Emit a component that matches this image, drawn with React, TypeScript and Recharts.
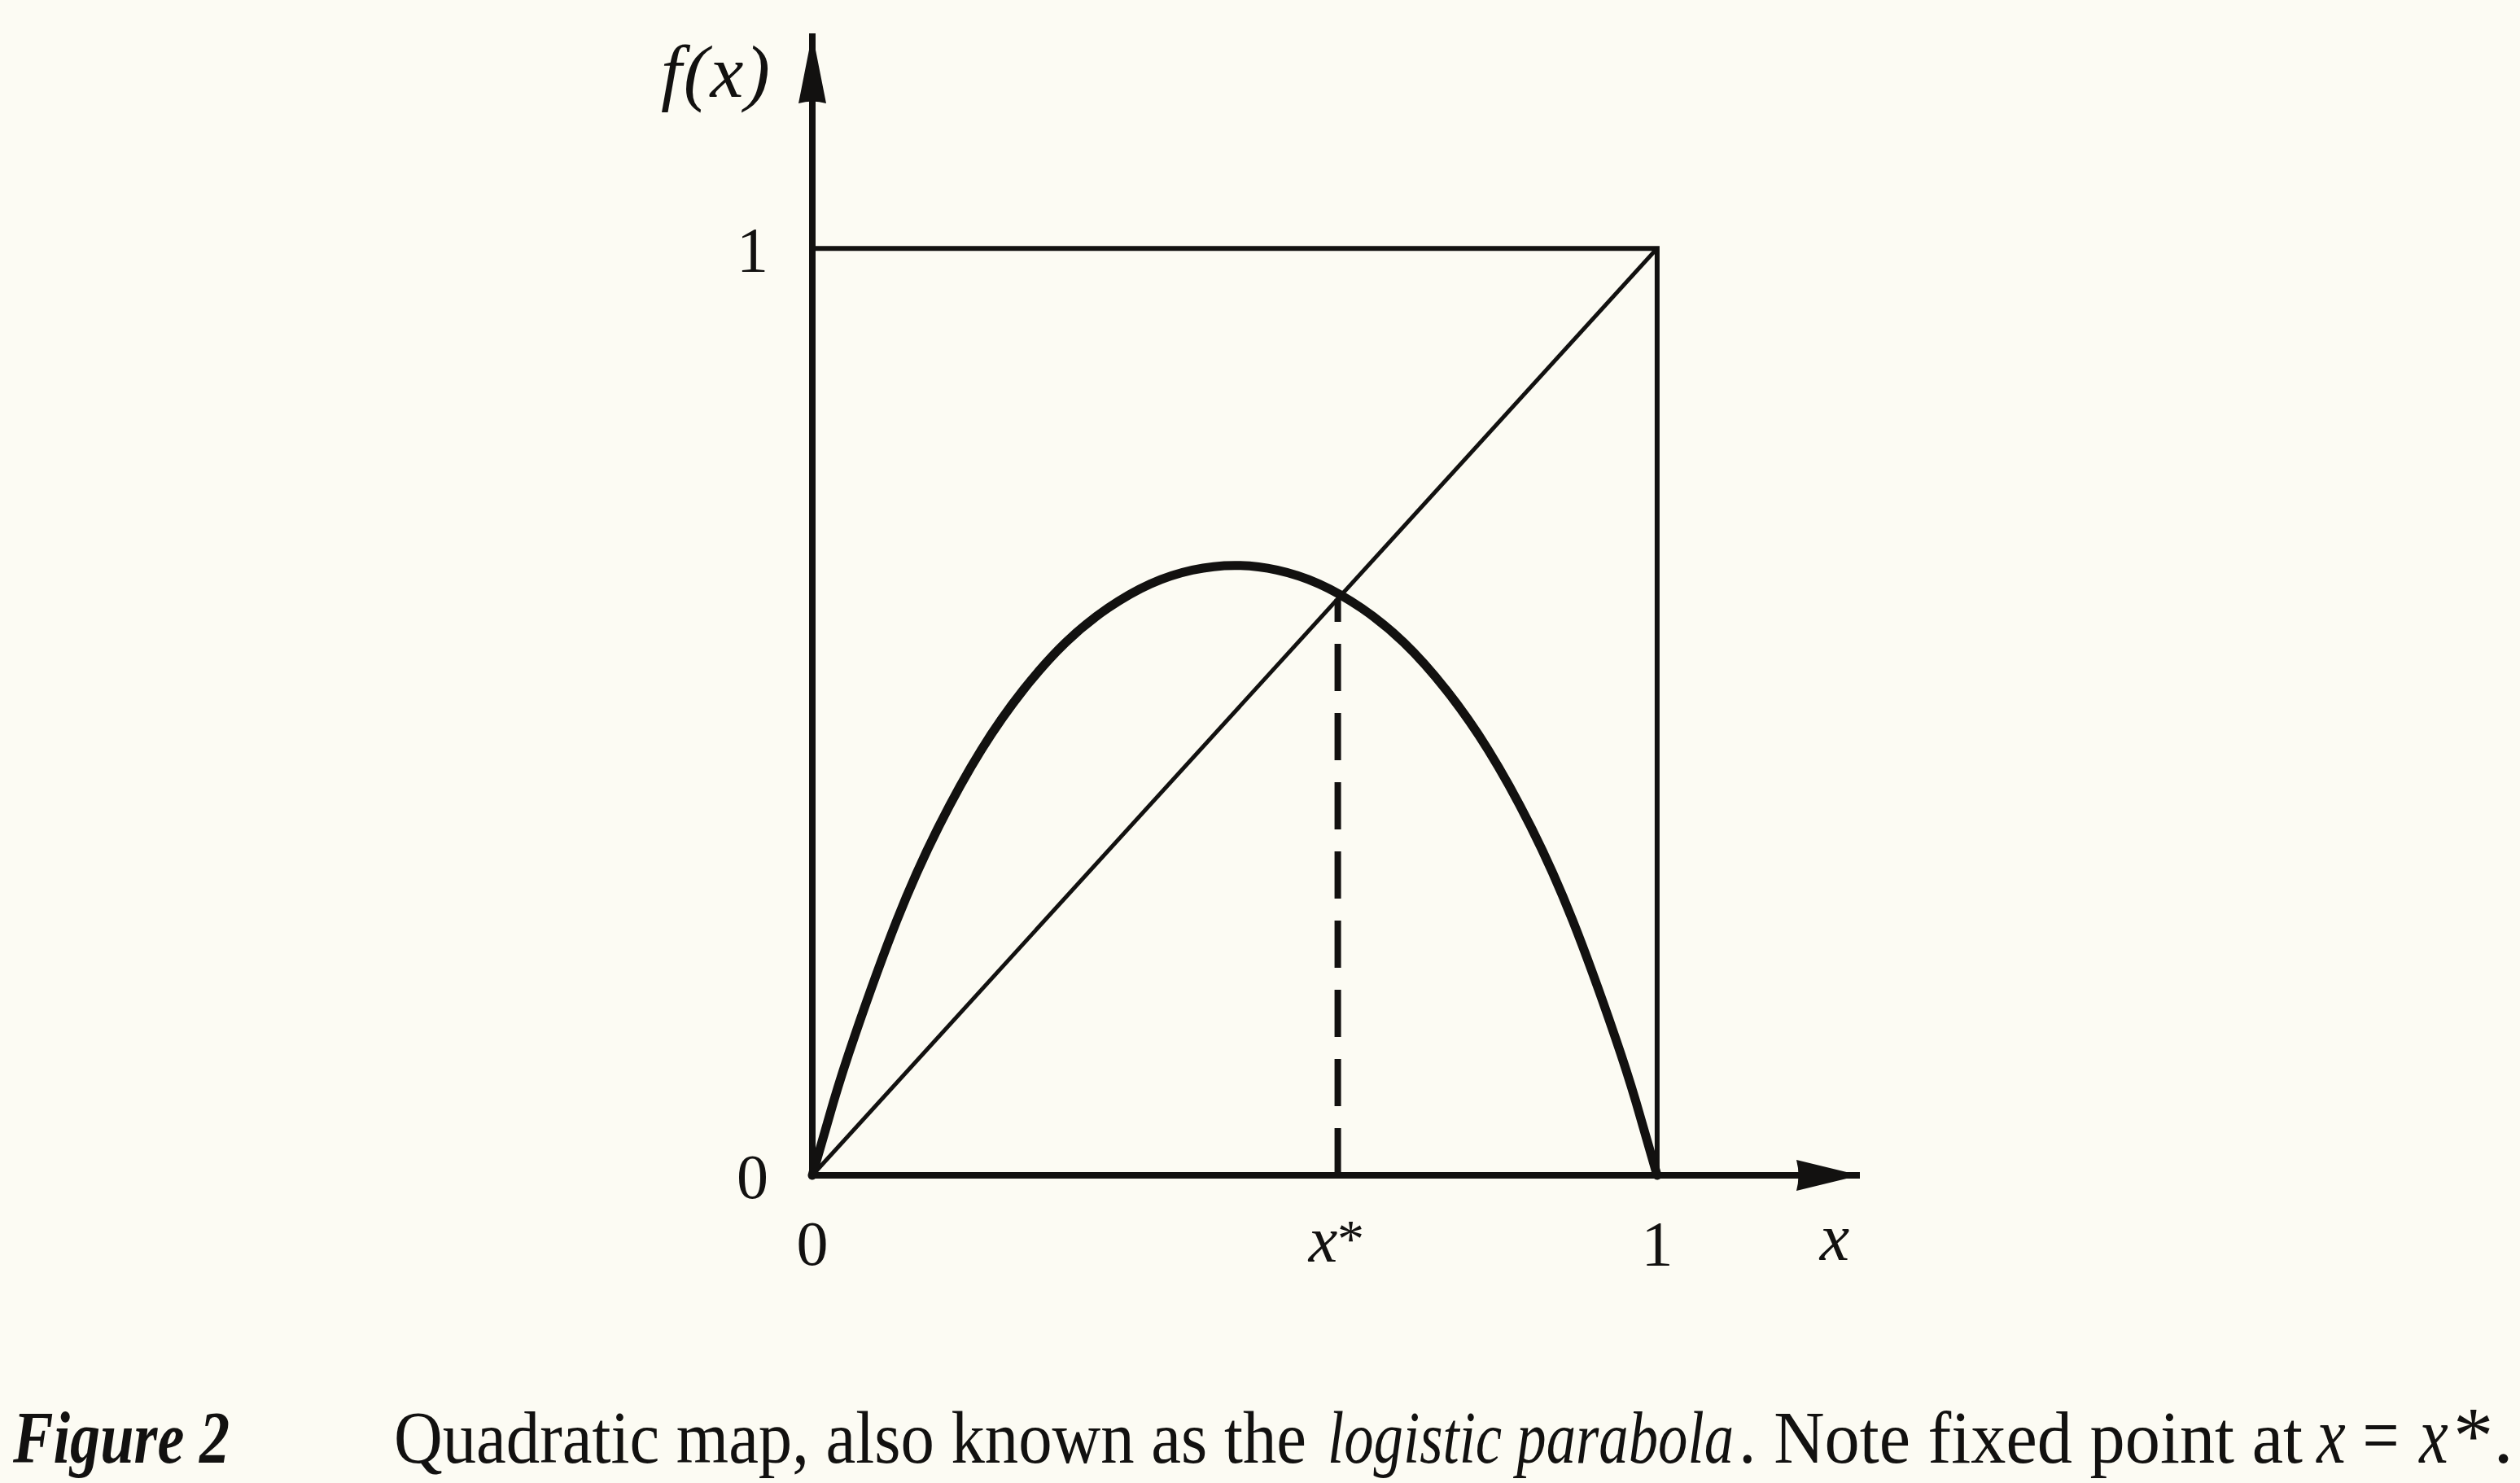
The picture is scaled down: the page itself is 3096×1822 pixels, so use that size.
import React from 'react';
import { ComposedChart, Line, Scatter, XAxis, YAxis } from 'recharts';

// values
const mapX = [0, 0.025, 0.05, 0.1, 0.15, 0.2, 0.25, 0.3, 0.35, 0.4, 0.45, 0.5, 0.55, 0.6, 0.65, 0.7, 0.75, 0.8, 0.85, 0.9, 0.95, 0.975, 1];
const mapY = [0, 0.079, 0.150, 0.275, 0.377, 0.459, 0.524, 0.575, 0.612, 0.638, 0.653, 0.658, 0.653, 0.638, 0.612, 0.575, 0.524, 0.459, 0.377, 0.275, 0.150, 0.079, 0];

const diagX = [0, 1];
const diagY = [0, 1];

const boxX = [0, 1, 1];
const boxY = [1, 1, 0];

const fixedPoint = 0.622;

const xTicks = [0, fixedPoint, 1, 1.21];
const xTickLabels = ['0', 'x*', '1', 'x'];
const yTicks = [0, 1, 1.19];
const yTickLabels = ['0', '1', 'f(x)'];

const X_MAX = 1.24;
const Y_MAX = 1.232;

const zip = (xs: number[], ys: number[]) => xs.map((x, i) => ({ x, y: ys[i] }));

const curveData = zip(mapX, mapY);
const diagData = zip(diagX, diagY);
const boxData = zip(boxX, boxY);
const dashData = [{ x: fixedPoint, y: 0 }, { x: fixedPoint, y: fixedPoint }];

const INK = '#121110';
const PAPER = '#fcfbf3';
const FONT = '"Liberation Serif", "DejaVu Serif", serif';

const findIdx = (arr: number[], v: number) => arr.findIndex((t) => Math.abs(t - v) < 1e-6);

const XTick = (props: any) => {
  const { x, y, payload } = props;
  const label = xTickLabels[findIdx(xTicks, payload.value)];
  const base = y + 110;
  if (label === 'x*') {
    return (
      <g>
        <text x={x - 18} y={base - 4} textAnchor="middle" fontFamily={FONT} fontSize={80} fill={INK} fontStyle="italic">x</text>
        <text x={x + 16} y={base - 10} textAnchor="middle" fontFamily={FONT} fontSize={66} fill={INK}>*</text>
      </g>
    );
  }
  return (
    <text x={x} y={label === 'x' ? base - 6 : base} textAnchor="middle" fontFamily={FONT} fontSize={label === 'x' ? 82 : 78} fill={INK}
      fontStyle={label === 'x' ? 'italic' : 'normal'}>
      {label}
    </text>
  );
};

const YTick = (props: any) => {
  const { x, y, payload } = props;
  const label = yTickLabels[findIdx(yTicks, payload.value)];
  if (label === 'f(x)') {
    return (
      <text x={x - 52} y={y + 30} textAnchor="end" fontFamily={FONT} fontSize={92} fill={INK} fontStyle="italic"
        textLength={134} lengthAdjust="spacing">
        f(x)
      </text>
    );
  }
  return (
    <text x={x - 54} y={y + 28} textAnchor="end" fontFamily={FONT} fontSize={78} fill={INK}>
      {label}
    </text>
  );
};

const RightArrow = (props: any) => {
  const { cx, cy } = props;
  return <path d={`M${cx},${cy} L${cx - 78},${cy - 19} Q${cx - 73},${cy} ${cx - 78},${cy + 19} Z`} fill={INK} />;
};

const UpArrow = (props: any) => {
  const { cx, cy } = props;
  return <path d={`M${cx},${cy} L${cx - 17},${cy + 86} Q${cx},${cy + 81} ${cx + 17},${cy + 86} Z`} fill={INK} />;
};

// caption is set at a smaller size and stretched vertically, so the narrow book face fits
const CAP = 73.6;

export default function App() {
  return (
    <div style={{ position: 'absolute', left: 0, top: 0, width: 3096, height: 1822, background: PAPER, overflow: 'hidden' }}>
      <ComposedChart width={3096} height={1822} margin={{ top: 41, right: 811, bottom: 178, left: 798 }}>
        <XAxis
          type="number"
          dataKey="x"
          domain={[0, X_MAX]}
          ticks={xTicks}
          interval={0}
          tickSize={0}
          tickMargin={0}
          tickLine={false}
          axisLine={{ stroke: INK, strokeWidth: 8 }}
          tick={<XTick />}
          height={200}
        />
        <YAxis
          type="number"
          dataKey="y"
          domain={[0, Y_MAX]}
          ticks={yTicks}
          interval={0}
          tickSize={0}
          tickMargin={0}
          tickLine={false}
          axisLine={{ stroke: INK, strokeWidth: 8 }}
          tick={<YTick />}
          width={200}
        />
        <Line data={boxData} dataKey="y" type="linear" stroke={INK} strokeWidth={6} dot={false} isAnimationActive={false} strokeLinejoin="miter" />
        <Line data={diagData} dataKey="y" type="linear" stroke={INK} strokeWidth={5} dot={false} isAnimationActive={false} />
        <Line data={dashData} dataKey="y" type="linear" stroke={INK} strokeWidth={8} strokeDasharray="58 27" dot={false} isAnimationActive={false} />
        <Line data={curveData} dataKey="y" type="natural" stroke={INK} strokeWidth={11} dot={false} isAnimationActive={false} strokeLinecap="round" />
        <Scatter data={[{ x: X_MAX, y: 0 }]} dataKey="y" shape={<RightArrow />} isAnimationActive={false} />
        <Scatter data={[{ x: 0, y: Y_MAX }]} dataKey="y" shape={<UpArrow />} isAnimationActive={false} />
      </ComposedChart>
      <svg width={3096} height={1822} style={{ position: 'absolute', left: 0, top: 0, pointerEvents: 'none' }}>
        <g transform="translate(0,1797) scale(1,1.25)" fontFamily={FONT} fontSize={CAP} fill={INK}>
          <text x={16} y={0} fontWeight="bold" fontStyle="italic" textLength={266} lengthAdjust="spacingAndGlyphs">Figure 2</text>
          <text x={484} y={0} textLength={1121} lengthAdjust="spacingAndGlyphs">Quadratic map, also known as the</text>
          <text x={1631} y={0} fontStyle="italic" fontSize={72} textLength={499} lengthAdjust="spacingAndGlyphs">logistic parabola</text>
          <text x={2136} y={0} textLength={693} lengthAdjust="spacingAndGlyphs">. Note fixed point at</text>
          <text x={2864} y={0} fontStyle="italic" fontSize={80} textAnchor="middle">x</text>
          <text x={2925} y={0} fontSize={80} textAnchor="middle">=</text>
          <text x={2990} y={0} fontStyle="italic" fontSize={80} textAnchor="middle">x</text>
          <text x={3014} y={0} fontSize={80} textLength={74} lengthAdjust="spacingAndGlyphs">*.</text>
        </g>
      </svg>
    </div>
  );
}
